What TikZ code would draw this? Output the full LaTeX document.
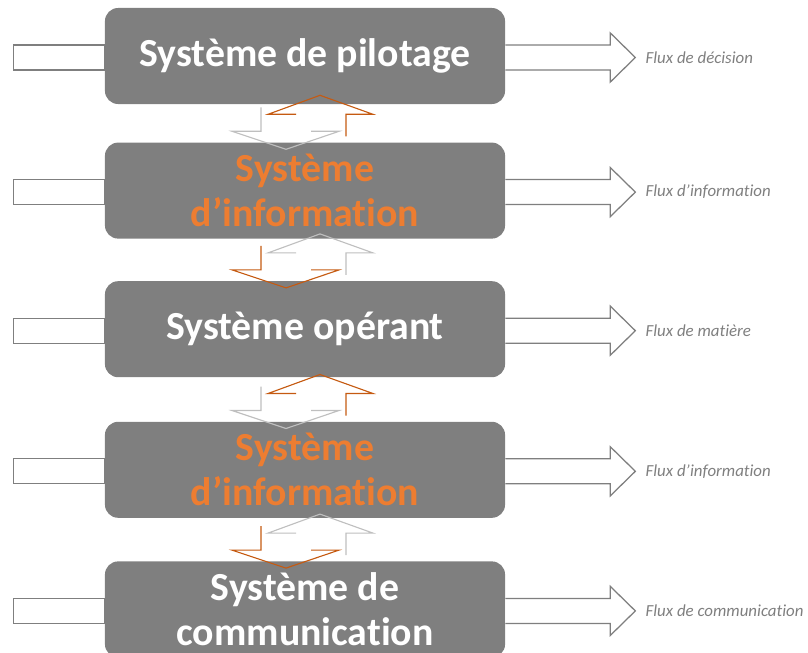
\documentclass[tikz,border=0pt]{standalone}
\usepackage{fontspec}
\setmainfont{Carlito}[Ligatures=NoCommon]
\usepackage{xcolor}
\usepackage{tikz}
\usetikzlibrary{positioning, calc}
\definecolor{boxgray}{RGB}{127,127,127}
\definecolor{infoorange}{RGB}{237,125,49}
\definecolor{arroworange}{RGB}{197,90,17}
\definecolor{arrowgray}{RGB}{191,191,191}

\begin{document}
\begin{tikzpicture}[x=0.025cm, y=-0.025cm,
  sysbox/.style={rectangle, rounded corners=0.33cm, fill=boxgray, minimum width=10cm, minimum height=2.4cm, inner sep=0pt, align=center, text=white, font=\fontsize{28.3}{32}\selectfont\bfseries},
  flow/.style={draw=boxgray, fill=white, line width=0.9pt},
  flux/.style={anchor=west, inner sep=0pt, text=boxgray, font=\fontsize{12}{14}\selectfont\itshape},
  orangeline/.style={draw=arroworange, line width=0.8pt},
  grayline/.style={draw=arrowgray, line width=0.8pt}]
\useasboundingbox (0,0) rectangle (808,652);

% boxes
\node (pilot) [sysbox] at (305,56) {Système de pilotage};
\node (info1) [sysbox, below=0.95cm of pilot, text=infoorange] {Système\\d’information};
\node (oper) [sysbox, below=1.05cm of info1] {Système opérant};
\node (info2) [sysbox, below=1.1cm of oper, text=infoorange] {Système\\d’information};
\node (comm) [sysbox, below=1.075cm of info2] {Système de\\communication};

% inputs
\draw [flow] ($(pilot.west)+(-91,-11)$) rectangle ($(pilot.west)+(0,14)$);
\draw [flow] ($(info1.west)+(-91,-11)$) rectangle ($(info1.west)+(0,14)$);
\draw [flow] ($(oper.west)+(-91,-11)$) rectangle ($(oper.west)+(0,14)$);
\draw [flow] ($(info2.west)+(-91,-11)$) rectangle ($(info2.west)+(0,14)$);
\draw [flow] ($(comm.west)+(-91,-11)$) rectangle ($(comm.west)+(0,14)$);

% outputs
\draw [flow] ($(pilot.east)+(0,-11)$) -- ++(105,0) -- ++(0,-12) -- ++(25,24.5) coordinate (tipa) -- ++(-25,24.5) -- ++(0,-12) -- ++(-105,0);
\draw [flow] ($(info1.east)+(0,-11)$) -- ++(105,0) -- ++(0,-12) -- ++(25,24.5) coordinate (tipb) -- ++(-25,24.5) -- ++(0,-12) -- ++(-105,0);
\draw [flow] ($(oper.east)+(0,-11)$) -- ++(105,0) -- ++(0,-12) -- ++(25,24.5) coordinate (tipc) -- ++(-25,24.5) -- ++(0,-12) -- ++(-105,0);
\draw [flow] ($(info2.east)+(0,-11)$) -- ++(105,0) -- ++(0,-12) -- ++(25,24.5) coordinate (tipd) -- ++(-25,24.5) -- ++(0,-12) -- ++(-105,0);
\draw [flow] ($(comm.east)+(0,-11)$) -- ++(105,0) -- ++(0,-12) -- ++(25,24.5) coordinate (tipe) -- ++(-25,24.5) -- ++(0,-12) -- ++(-105,0);

\node (fluxa) [flux] at ($(tipa)+(10,0)$) {Flux de décision};
\node (fluxb) [flux] at ($(tipb)+(10,0)$) {Flux d’information};
\node (fluxc) [flux] at ($(tipc)+(10,0)$) {Flux de matière};
\node (fluxd) [flux] at ($(tipd)+(10,0)$) {Flux d’information};
\node (fluxe) [flux] at ($(tipe)+(10,0)$) {Flux de communication};

% exchanges between levels
\draw [orangeline] ($(info1.north)+(-9,-28)$) -- ++(-28,0) -- ++(52,-19) -- ++(53,19) -- ++(-27,0) -- ++(0,22);
\draw [grayline] ($(info1.north)+(-44,-35)$) -- ++(0,24) -- ++(-29,0) -- ++(54,18) -- ++(53,-18) -- ++(-28,0);
\draw [grayline] ($(oper.north)+(-9,-28)$) -- ++(-28,0) -- ++(52,-19) -- ++(53,19) -- ++(-27,0) -- ++(0,22);
\draw [orangeline] ($(oper.north)+(-44,-35)$) -- ++(0,24) -- ++(-29,0) -- ++(54,18) -- ++(53,-18) -- ++(-28,0);
\draw [orangeline] ($(info2.north)+(-9,-28)$) -- ++(-28,0) -- ++(52,-19) -- ++(53,19) -- ++(-27,0) -- ++(0,22);
\draw [grayline] ($(info2.north)+(-44,-35)$) -- ++(0,24) -- ++(-29,0) -- ++(54,18) -- ++(53,-18) -- ++(-28,0);
\draw [grayline] ($(comm.north)+(-9,-28)$) -- ++(-28,0) -- ++(52,-19) -- ++(53,19) -- ++(-27,0) -- ++(0,22);
\draw [orangeline] ($(comm.north)+(-44,-35)$) -- ++(0,24) -- ++(-29,0) -- ++(54,18) -- ++(53,-18) -- ++(-28,0);
\end{tikzpicture}
\end{document}
